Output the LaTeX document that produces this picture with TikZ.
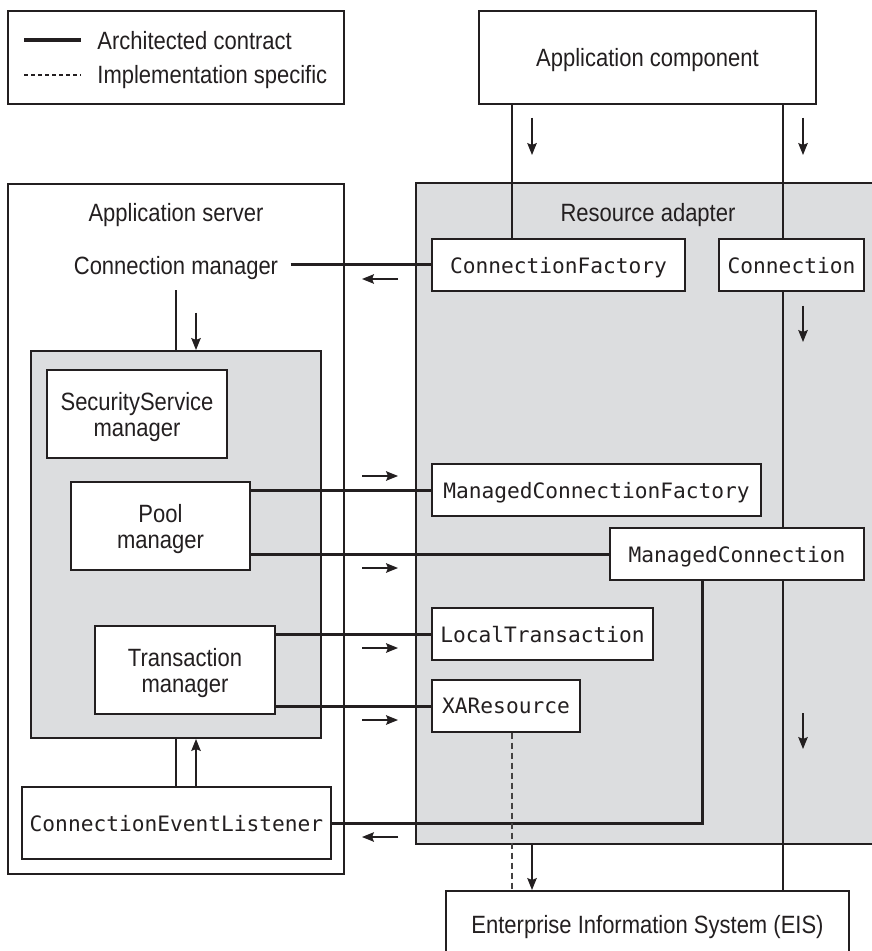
\documentclass[tikz,border=0pt]{standalone}
\usepackage{fontspec}
\setmainfont{Liberation Sans}[FakeStretch=0.88]
\setmonofont{DejaVu Sans Mono}
\usepackage{tikz}
\usetikzlibrary{arrows.meta}
\definecolor{ink}{HTML}{231F20}
\definecolor{adapter}{HTML}{DCDDDF}

\begin{document}
\begin{tikzpicture}[
    x=0.5pt, y=-0.5pt,
    font=\fontsize{12.5}{13}\selectfont, text=ink,
    area/.style={rectangle, draw=ink, line width=0.6pt, inner sep=0pt},
    box/.style={area, fill=white, align=center, text depth=0pt},
    cls/.style={box, font=\ttfamily\fontsize{10.6}{12}\selectfont, minimum height=26pt},
    mgr/.style={box, minimum width=90pt, minimum height=44pt},
    lbl/.style={inner sep=0pt, text depth=0pt},
    link/.style={draw=ink, line width=0.6pt},
    api/.style={draw=ink, line width=1.5pt},
    impl/.style={draw=ink!85, line width=0.6pt, dash pattern=on 3pt off 2pt},
    flow/.style={-{Stealth[length=6pt, width=4.8pt, inset=1pt]}, draw=ink, fill=ink, line width=0.6pt},
]
    \useasboundingbox (0,0) rectangle (871,951);

    % legend
    \node[area, minimum width=168pt, minimum height=46.5pt] (legend) at (176,57.5) {};
    \node[lbl, anchor=base west] (ac) at (97,50) {Architected contract};
    \node[lbl, anchor=base west] (is) at (97,84) {Implementation specific};
    \draw[api, line width=2pt] (24,40) -- (81,40);
    \draw[draw=ink, line width=0.7pt, dash pattern=on 2pt off 1.5pt] (24,75) -- (81,75);

    % containers
    \node[box, minimum width=168.5pt, minimum height=46.5pt] (appcomp) at (647.5,57.5) {Application component};
    \node[area, minimum width=168pt, minimum height=345pt] (server) at (176,529) {};
    \node[area, fill=adapter, minimum width=242pt, minimum height=330.5pt] (ra) at (658,513.5) {};
    \node[area, fill=adapter, minimum width=145pt, minimum height=193.5pt] (cm) at (176,544.5) {};
    \node[lbl] (srvlbl) at (176,212) {Application server};
    \node[lbl] (ralbl) at (648,212) {Resource adapter};
    \node[lbl, inner xsep=6pt, inner ysep=8pt] (cmgr) at (176,265) {Connection manager};

    % application server side
    \node[mgr] (secmgr) at (137,414) {SecurityService\\manager};
    \node[mgr, minimum width=89.5pt] (poolmgr) at (160.5,526) {Pool\\manager};
    \node[mgr] (txmgr) at (185,670) {Transaction\\manager};
    \node[cls, minimum width=154.5pt, minimum height=36pt] (cel) at (176.5,823) {ConnectionEventListener};

    % resource adapter side
    \node[cls, minimum width=126.5pt] (cf) at (558.5,265) {ConnectionFactory};
    \node[cls, minimum width=72.5pt] (conn) at (791.5,265) {Connection};
    \node[cls, minimum width=164.5pt] (mcf) at (596.5,490) {ManagedConnectionFactory};
    \node[cls, minimum width=127pt] (mc) at (737,554) {ManagedConnection};
    \node[cls, minimum width=110.5pt] (lt) at (542.5,634) {LocalTransaction};
    \node[cls, minimum width=74pt] (xa) at (506,706) {XAResource};
    \node[box, minimum width=201.5pt, minimum height=33pt] (eis) at (647.5,924) {Enterprise Information System (EIS)};

    \coordinate (cfx) at (512,0);
    \coordinate (conx) at (783,0);
    \coordinate (evx) at (702,0);

    % plain links
    \draw[link] (appcomp.south -| cfx) -- (cf.north -| cfx);
    \draw[link] (appcomp.south -| conx) -- (conn.north -| conx);
    \draw[link] (conn.south -| conx) -- (mc.north -| conx);
    \draw[link] (mc.south -| conx) -- (eis.north -| conx);
    \draw[link] (cmgr.south) -- (cm.north);
    \draw[link] (cm.south) -- (cm.south |- cel.north);

    % contracts
    \draw[api] (cmgr.east) -- (cf.west);
    \draw[api] (poolmgr.east |- mcf.west) -- (mcf.west);
    \draw[api] (poolmgr.east |- mc.west) -- (mc.west);
    \draw[api] (txmgr.east |- lt.west) -- (lt.west);
    \draw[api] (txmgr.east |- xa.west) -- (xa.west);
    \draw[api] (mc.south -| evx) |- (cel.east);
    \draw[impl] (xa.south -| cfx) -- (eis.north -| cfx);

    % call directions
    \draw[flow] (532,118) -- (532,155);
    \draw[flow] (803,118) -- (803,155);
    \draw[flow] (398,279) -- (362,279);
    \draw[flow] (196,313) -- (196,350);
    \draw[flow] (803,306) -- (803,342);
    \draw[flow] (362,476) -- (398,476);
    \draw[flow] (362,568) -- (398,568);
    \draw[flow] (362,648) -- (398,648);
    \draw[flow] (362,720) -- (398,720);
    \draw[flow] (803,713) -- (803,749);
    \draw[flow] (196,787) -- (196,739);
    \draw[flow] (398,837) -- (362,837);
    \draw[flow] (532,844) -- (532,890);
\end{tikzpicture}
\end{document}
